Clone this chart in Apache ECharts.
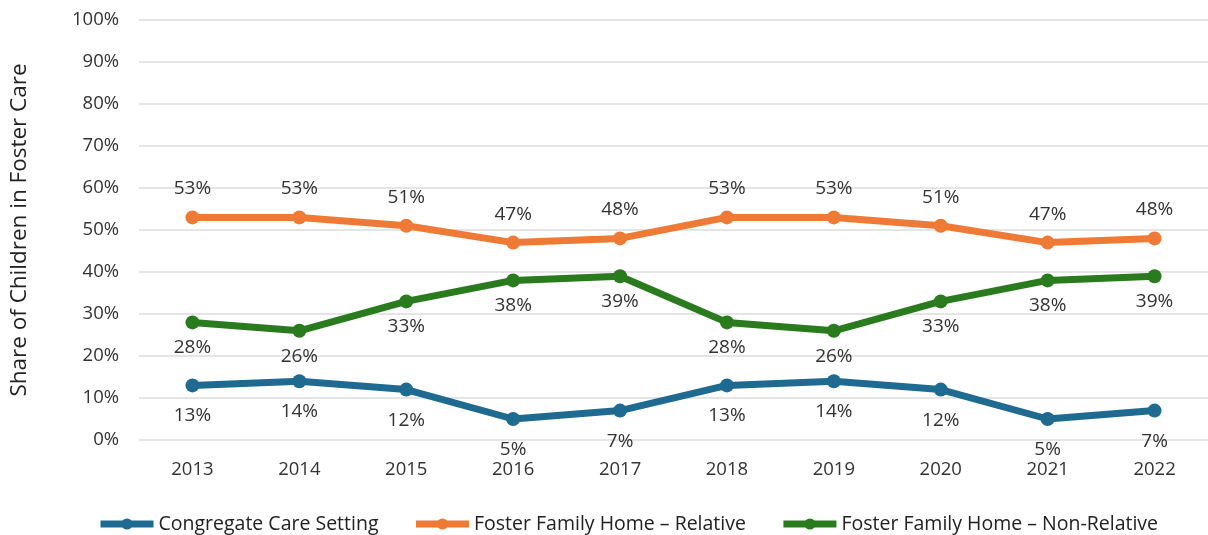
<!DOCTYPE html>
<html>
<head>
<meta charset="utf-8">
<script src="https://cdn.jsdelivr.net/npm/echarts@6/dist/echarts.min.js"></script>
<style>
html,body{margin:0;padding:0;background:#fff;}
#chart{width:1208px;height:535px;}
</style>
</head>
<body>
<div id="chart"></div>
<script>
const years = ['2013','2014','2015','2016','2017','2018','2019','2020','2021','2022'];
const congregate = [13,14,12,5,7,13,14,12,5,7];
const relative = [53,53,51,47,48,53,53,51,47,48];
const nonRelative = [28,26,33,38,39,28,26,33,38,39];
const seriesNames = ['Congregate Care Setting','Foster Family Home – Relative','Foster Family Home – Non-Relative'];
const colors = ['#1E6A90','#EE7A35','#2A7A1E'];

const FONT = '"Open Sans", sans-serif';
const chart = echarts.init(document.getElementById('chart'));

function mk(name, data, color, pos, dist) {
  return {
    name: name, type: 'line', data: data,
    symbol: 'circle', symbolSize: 14,
    lineStyle: {width: 7, color: color},
    itemStyle: {color: color},
    label: {show: true, position: pos, distance: dist, formatter: '{c}%',
      color: '#333', fontFamily: FONT, fontSize: 19},
    z: 3
  };
}

chart.setOption({
  animation: false,
  color: colors,
  textStyle: {fontFamily: FONT},
  grid: {left: 138, top: 20, width: 1081, height: 420, containLabel: false},
  legend: {
    bottom: 1, left: 97, padding: 0,
    itemWidth: 53, itemHeight: 14, itemGap: 34,
    lineStyle: {width: 7},
    textStyle: {fontFamily: FONT, fontSize: 19.5, color: '#222'},
    data: seriesNames
  },
  xAxis: {
    type: 'category', data: years, boundaryGap: true,
    axisLine: {show: false}, axisTick: {show: false},
    axisLabel: {color: '#333', fontFamily: FONT, fontSize: 18.5, margin: 20}
  },
  yAxis: {
    type: 'value', min: 0, max: 100, interval: 10,
    name: 'Share of Children in Foster Care', nameLocation: 'middle', nameGap: 108,
    nameTextStyle: {color: '#222', fontFamily: FONT, fontSize: 22.5},
    axisLabel: {formatter: '{value}%', color: '#333', fontFamily: FONT, fontSize: 18.5, margin: 20},
    splitLine: {lineStyle: {color: '#DCDCDC', width: 1.5}},
    axisLine: {show: false}, axisTick: {show: false}
  },
  series: [
    mk(seriesNames[0], congregate, colors[0], 'bottom', 14),
    mk(seriesNames[1], relative, colors[1], 'top', 12),
    mk(seriesNames[2], nonRelative, colors[2], 'bottom', 9)
  ]
});
</script>
</body>
</html>
